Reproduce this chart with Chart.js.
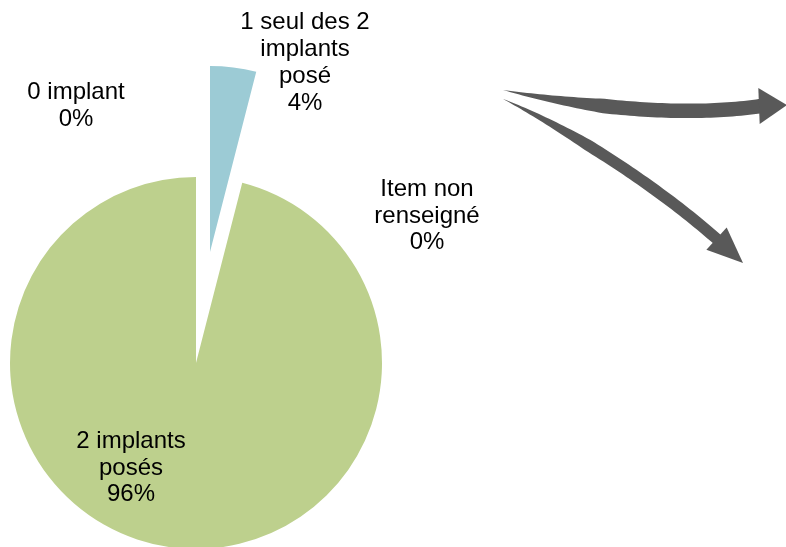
<!DOCTYPE html>
<html>
<head>
<meta charset="utf-8">
<script src="https://cdn.jsdelivr.net/npm/chart.js@4.4.1/dist/chart.umd.min.js"></script>
<style>
  html, body { margin: 0; padding: 0; background: #ffffff; overflow: hidden; }
  #wrap { position: relative; width: 786px; height: 547px; overflow: hidden; }
  #wrap canvas { position: absolute; left: 0; top: 0; }
</style>
</head>
<body>
<div id="wrap">
  <canvas id="piePrincipal" width="786" height="547"></canvas>
  <canvas id="pieEclate" width="786" height="547"></canvas>
</div>
<script>
// categories (lignes des étiquettes) et pourcentages
const categories = [
  ['0 implant'],
  ['1 seul des 2', 'implants', 'posé'],
  ['Item non', 'renseigné'],
  ['2 implants', 'posés']
];
const pourcentages = [0, 4, 0, 96];
const couleurs = ['#4F81BD', '#9CCBD5', '#F79646', '#BDD08D'];
const indiceEclate = 1;

// mise en page
const rayon = 186;
const distanceEclate = 112;
const posEtiquettes = [[76, 106], [305, 63], [427, 216], [131, 468]];

const policeEtiquette = '24px "Liberation Sans", Arial, sans-serif';
const hauteurLigne = 26.8;

// déplacement de la part éclatée le long de sa bissectrice
const total = pourcentages.reduce((a, b) => a + b, 0);
const debut = pourcentages.slice(0, indiceEclate).reduce((a, b) => a + b, 0);
const milieu = ((debut + pourcentages[indiceEclate] / 2) / total) * 2 * Math.PI;
const dx = Math.sin(milieu) * distanceEclate;
const dy = -Math.cos(milieu) * distanceEclate;
const canvasEclate = document.getElementById('pieEclate');
canvasEclate.style.left = dx + 'px';
canvasEclate.style.top = dy + 'px';

const pluginEtiquettes = {
  id: 'etiquettes',
  afterDatasetsDraw(chart) {
    const ctx = chart.ctx;
    ctx.save();
    ctx.font = policeEtiquette;
    ctx.fillStyle = '#000000';
    ctx.textAlign = 'center';
    ctx.textBaseline = 'middle';
    categories.forEach((lignes, i) => {
      const texte = lignes.concat([pourcentages[i] + '%']);
      const [cx, cy] = posEtiquettes[i];
      const y0 = cy - (texte.length - 1) * hauteurLigne / 2;
      texte.forEach((l, k) => ctx.fillText(l, cx, y0 + k * hauteurLigne));
    });
    ctx.restore();
  }
};

function point(p0, c1, c2, p3, t) {
  const u = 1 - t;
  const a = u * u * u, b = 3 * u * u * t, c = 3 * u * t * t, d = t * t * t;
  return [a * p0[0] + b * c1[0] + c * c2[0] + d * p3[0],
          a * p0[1] + b * c1[1] + c * c2[1] + d * p3[1]];
}

function dessinerFleche(ctx, f) {
  const n = 60;
  const haut = [], bas = [];
  for (let i = 0; i <= n; i++) {
    const t = i / n;
    const p = point(f.p0, f.c1, f.c2, f.p3, t);
    const q = point(f.p0, f.c1, f.c2, f.p3, Math.min(1, t + 0.001));
    const r = point(f.p0, f.c1, f.c2, f.p3, Math.max(0, t - 0.001));
    let tx = q[0] - r[0], ty = q[1] - r[1];
    const len = Math.hypot(tx, ty);
    tx /= len; ty /= len;
    const w = f.largeur * Math.min(1, t / f.rampe) / 2;
    haut.push([p[0] + ty * w, p[1] - tx * w]);
    bas.push([p[0] - ty * w, p[1] + tx * w]);
  }
  ctx.beginPath();
  ctx.moveTo(haut[0][0], haut[0][1]);
  haut.forEach(p => ctx.lineTo(p[0], p[1]));
  for (let i = bas.length - 1; i >= 0; i--) ctx.lineTo(bas[i][0], bas[i][1]);
  ctx.closePath();
  ctx.fill();

  // pointe
  let hx = f.pointe[0] - f.p3[0], hy = f.pointe[1] - f.p3[1];
  const hl = Math.hypot(hx, hy);
  hx /= hl; hy /= hl;
  const base = [f.p3[0] - hx * 2, f.p3[1] - hy * 2];
  ctx.beginPath();
  ctx.moveTo(base[0] + hy * f.demiTete, base[1] - hx * f.demiTete);
  ctx.lineTo(f.pointe[0], f.pointe[1]);
  ctx.lineTo(base[0] - hy * f.demiTete, base[1] + hx * f.demiTete);
  ctx.closePath();
  ctx.fill();
}

const pluginFleches = {
  id: 'fleches',
  afterDraw(chart) {
    const ctx = chart.ctx;
    ctx.save();
    ctx.fillStyle = '#595959';
    dessinerFleche(ctx, { p0: [503, 90], c1: [580, 106], c2: [680, 118], p3: [761, 106],
      pointe: [787, 105], largeur: 14.5, rampe: 0.4, demiTete: 18 });
    dessinerFleche(ctx, { p0: [503, 99], c1: [560, 125], c2: [650, 180], p3: [718, 240],
      pointe: [743, 263], largeur: 11.5, rampe: 0.42, demiTete: 15 });
    ctx.restore();
  }
};

function creerCamembert(id, colors, plugins) {
  const ctx = document.getElementById(id).getContext('2d');
  return new Chart(ctx, {
    type: 'pie',
    data: {
      labels: categories.map(c => c.join(' ')),
      datasets: [{
        data: pourcentages,
        backgroundColor: colors,
        borderWidth: 0,
        radius: rayon,
        clip: false
      }]
    },
    options: {
      responsive: false,
      animation: false,
      events: [],
      layout: { padding: { left: 0, right: 786 - 392, top: 179, bottom: 0 } },
      plugins: {
        legend: { display: false },
        tooltip: { enabled: false }
      }
    },
    plugins: plugins
  });
}

creerCamembert('piePrincipal',
  couleurs.map((c, i) => i === indiceEclate ? 'rgba(0,0,0,0)' : c),
  [pluginEtiquettes, pluginFleches]);
creerCamembert('pieEclate',
  couleurs.map((c, i) => i === indiceEclate ? c : 'rgba(0,0,0,0)'),
  []);
</script>
</body>
</html>
